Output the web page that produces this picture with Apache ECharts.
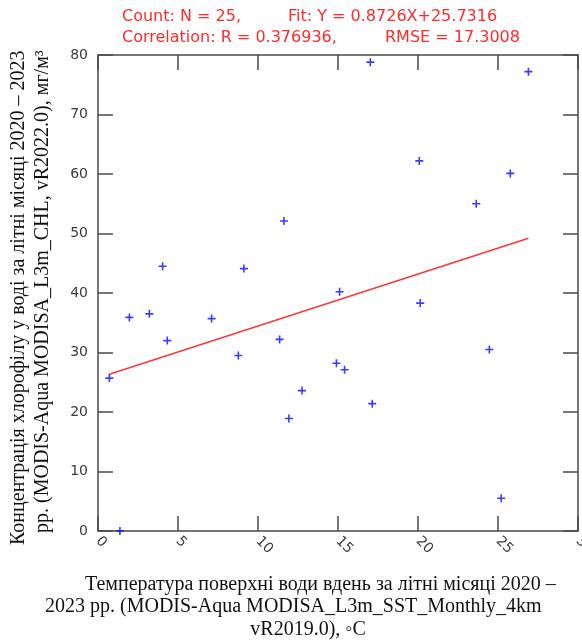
<!DOCTYPE html>
<html>
<head>
<meta charset="utf-8">
<script src="https://cdn.jsdelivr.net/npm/echarts@6/dist/echarts.min.js"></script>
<style>
  html, body { margin: 0; padding: 0; background: #fff; }
  #chart { width: 582px; height: 644px; }
</style>
</head>
<body>
<div id="chart"></div>
<script>
// Day-time sea surface temperature (°C) vs chlorophyll concentration (mg/m³), summer months 2020–2023
const sstValues = [0.71, 1.37, 1.96, 3.21, 4.04, 4.33, 7.1, 8.77, 9.12, 11.35, 11.62, 11.93, 12.75,
                   14.9, 15.1, 15.41, 17.14, 17.02, 20.08, 20.14, 23.64, 24.46, 25.2, 25.77, 26.9];
const chlValues = [25.7, 0.0, 35.9, 36.5, 44.5, 32.0, 35.7, 29.5, 44.1, 32.2, 52.1, 18.9, 23.6,
                   28.2, 40.2, 27.1, 21.4, 78.8, 62.2, 38.3, 55.0, 30.5, 5.5, 60.1, 77.2];

// Regression statistics shown above the plot
const fitSlope = 0.8726;
const fitIntercept = 25.7316;
const countN = 25;
const corrR = '0.376936';
const rmse = '17.3008';

// Axis ranges and tick steps
const xRange = [0, 30], xStep = 5;
const yRange = [0, 80], yStep = 10;

const points = sstValues.map((x, i) => [x, chlValues[i]]);
const xMin = Math.min(...sstValues), xMax = Math.max(...sstValues);
const fitLine = [[xMin, fitSlope * xMin + fitIntercept], [xMax, fitSlope * xMax + fitIntercept]];

const frame = '#4a4a4a';
const plus = 'path://M-0.2,-1H0.2V-0.2H1V0.2H0.2V1H-0.2V0.2H-1V-0.2H-0.2Z';
const serif = '"Liberation Serif", "DejaVu Serif", serif';
const sans = '"DejaVu Sans", sans-serif';
const red = '#ff2a2a';

function axisBase(range, step) {
  return {
    type: 'value', min: range[0], max: range[1], interval: step,
    splitLine: { show: false },
    axisLine: { show: true, onZero: false, lineStyle: { color: frame, width: 1.5 } },
    axisTick: { show: true, inside: true, length: 15, lineStyle: { color: frame, width: 1.5 } }
  };
}

function label(text, x, y, font, color, align, rotation) {
  return {
    type: 'text', x: x, y: y, rotation: rotation || 0,
    style: { text: text, fill: color, font: font, textAlign: align, textVerticalAlign: 'middle' }
  };
}

const chart = echarts.init(document.getElementById('chart'), null, { renderer: 'canvas' });
chart.setOption({
  animation: false,
  backgroundColor: '#fff',
  grid: { left: 98, right: 4, top: 55, bottom: 113, containLabel: false, outerBoundsMode: 'none' },
  xAxis: [
    Object.assign(axisBase(xRange, xStep), {
      position: 'bottom',
      axisLabel: { rotate: -45, margin: 8, color: '#3a3a3a', fontSize: 14, fontFamily: sans,
                   showMinLabel: true, showMaxLabel: true, hideOverlap: false }
    }),
    Object.assign(axisBase(xRange, xStep), { position: 'top', axisLabel: { show: false } })
  ],
  yAxis: [
    Object.assign(axisBase(yRange, yStep), {
      position: 'left',
      axisLabel: { margin: 10, color: '#3a3a3a', fontSize: 14, fontFamily: sans }
    }),
    Object.assign(axisBase(yRange, yStep), { position: 'right', axisLabel: { show: false } })
  ],
  series: [
    {
      type: 'line', data: fitLine, xAxisIndex: 0, yAxisIndex: 0,
      showSymbol: false, lineStyle: { color: '#ff3535', width: 1.5 }, z: 2
    },
    {
      type: 'scatter', data: points, xAxisIndex: 0, yAxisIndex: 0,
      symbol: plus, symbolSize: 8, itemStyle: { color: '#0a0aff' }, z: 3
    }
  ],
  graphic: [
    label('Count: N = ' + countN + ',', 122, 17, '16px ' + sans, red, 'left'),
    label('Fit: Y = ' + fitSlope + 'X+' + fitIntercept, 288, 17, '16px ' + sans, red, 'left'),
    label('Correlation: R = ' + corrR + ',', 122, 38, '16px ' + sans, red, 'left'),
    label('RMSE = ' + rmse, 385, 38, '16px ' + sans, red, 'left'),

    label('Температура поверхні води вдень за літні місяці 2020 –', 85, 585, '20px ' + serif, '#111', 'left'),
    label('2023 рр. (MODIS-Aqua MODISA_L3m_SST_Monthly_4km', 45, 607, '20px ' + serif, '#111', 'left'),
    label('vR2019.0), ◦C', 308, 630, '20px ' + serif, '#111', 'center'),

    label('Концентрація хлорофілу у воді за літні місяці 2020 – 2023', 19, 545, '20px ' + serif, '#111', 'left', Math.PI / 2),
    label('рр. (MODIS-Aqua MODISA_L3m_CHL, vR2022.0), мг/м³', 43, 533, '20px ' + serif, '#111', 'left', Math.PI / 2)
  ]
});
</script>
</body>
</html>
